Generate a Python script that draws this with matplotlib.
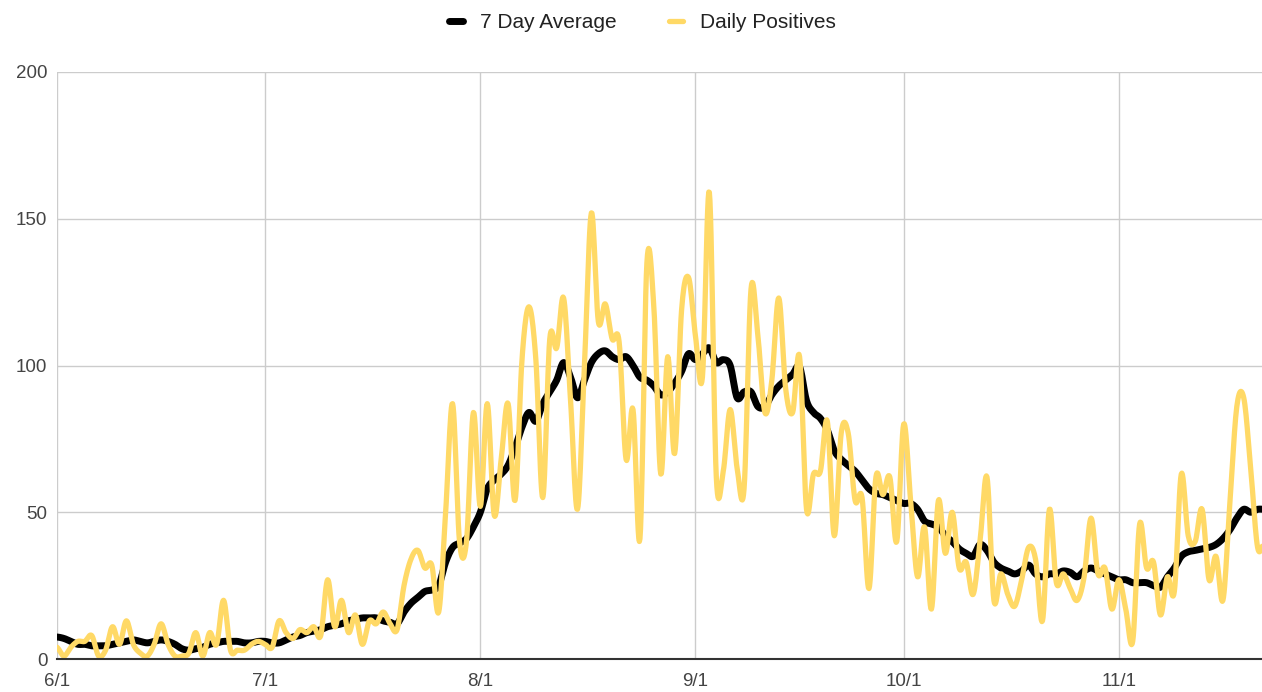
import numpy as np
import pandas as pd
import matplotlib
matplotlib.use("Agg")
from matplotlib import pyplot as plt

# daily values, 6/1 .. 11/22
daily_positives = [
    4, 1, 4, 6, 6, 8, 1, 3, 11, 5, 13, 5, 2, 1, 5, 12, 5, 1, 1, 2, 9, 1, 9, 5, 20, 3, 3, 3, 5, 6,           # june
    5, 4, 13, 9, 7, 10, 9, 11, 8, 27, 11, 20, 9, 15, 5, 13, 12, 16, 12, 10, 25, 34, 37, 31, 32, 16, 50, 87, 40, 40, 84,  # july
    52, 87, 49, 68, 87, 54, 102, 120, 102, 55, 109, 106, 123, 88, 51, 100, 152, 115, 121, 109, 108, 68, 85, 41, 135, 120, 63, 103, 70, 119, 130,  # aug
    110, 96, 159, 62, 64, 85, 65, 58, 126, 110, 84, 95, 123, 92, 84, 103, 51, 63, 64, 81, 42, 77, 77, 54, 55, 24, 62, 56, 62, 40,  # sep
    80, 54, 28, 45, 17, 54, 36, 50, 31, 33, 22, 40, 62, 20, 29, 22, 18, 27, 38, 34, 13, 51, 26, 29, 24, 20, 28, 48, 29, 31, 17,  # oct
    27, 17, 6, 46, 31, 33, 15, 28, 23, 63, 42, 40, 51, 27, 35, 20, 53, 86, 89, 65, 38, 40,  # nov
]

seven_day_avg = [
    7.5, 7, 6, 5, 5, 4.5, 4.5, 4.5, 5, 5.5, 6, 6.5, 6, 5.5, 6, 6.5, 6, 5, 3.5, 3, 3.5, 4, 5, 5.5, 6, 6, 6, 5.5, 5.5, 6,
    6, 5.5, 5.5, 6.5, 7.5, 8, 9, 9.5, 10, 11, 11.5, 12, 13, 13.5, 14, 14, 14, 13, 12.5, 12, 16, 19, 21, 23, 23.5, 25, 33, 38, 39.5, 41, 45,
    50, 58, 61, 63, 66, 72, 79, 84, 81, 87, 91, 95, 101, 96, 89, 95, 101, 104, 105, 103, 102, 103, 100, 96, 95, 93, 90, 91, 94, 98, 104,
    102, 104, 106, 101, 102, 100, 89, 91, 91, 86, 86, 90, 93, 95, 97, 99.5, 88, 84, 82, 78, 71, 68, 66, 64, 61, 58, 56.5, 56, 55, 54,
    53, 53, 51, 47, 46, 45, 42, 40, 37.5, 36, 35, 39, 37, 33, 31, 30, 29, 30, 32, 29, 28, 29, 29, 30, 29.5, 28, 30, 31, 30, 29, 28,
    27, 27, 26, 26, 26, 25, 24.5, 28, 31, 35, 36.5, 37, 37.5, 38, 39, 41, 44, 48, 51, 50, 51, 51,
]

dates = pd.date_range("2020-06-01", periods=len(daily_positives), freq="D")
y_ticks = [0, 50, 100, 150, 200]


def smooth(y, n=12):
    # catmull-rom style curve through the points, like the sheets "smooth" line
    y = np.asarray(y, dtype=float)
    x = np.arange(len(y))
    p = np.concatenate([[y[0]], y, [y[-1]]])
    m = (p[2:] - p[:-2]) / 2.0
    xs, ys = [], []
    for i in range(len(y) - 1):
        t = np.linspace(0, 1, n, endpoint=False)
        h00 = 2 * t**3 - 3 * t**2 + 1
        h10 = t**3 - 2 * t**2 + t
        h01 = -2 * t**3 + 3 * t**2
        h11 = t**3 - t**2
        ys.append(h00 * y[i] + h10 * m[i] + h01 * y[i + 1] + h11 * m[i + 1])
        xs.append(x[i] + t)
    xs.append([x[-1]])
    ys.append([y[-1]])
    return np.concatenate(xs), np.concatenate(ys)


plt.rcParams["font.family"] = ["Liberation Sans", "DejaVu Sans"]

fig = plt.figure(figsize=(12.62, 6.92), dpi=100)
ax = fig.add_axes([57 / 1262, 33 / 692, 1 - 57 / 1262, (659 - 72) / 692])

xa, ya = smooth(seven_day_avg)
xd, yd = smooth(daily_positives)
ax.plot(xa, ya, color="black", lw=5, solid_capstyle="round", label="7 Day Average", zorder=3)
ax.plot(xd, yd, color="#ffd966", lw=3.8, solid_capstyle="round", label="Daily Positives", zorder=4)

first_of_month = [i for i, d in enumerate(dates) if d.day == 1]
ax.set_xticks(first_of_month)
ax.set_xticklabels([f"{dates[i].month}/1" for i in first_of_month])
ax.set_yticks(y_ticks)
ax.set_xlim(0, (1262 - 57) / 6.94)
ax.set_ylim(0, 200)

ax.grid(True, color="#cccccc", lw=1)
ax.set_axisbelow(True)
for s in ["top", "right", "left"]:
    ax.spines[s].set_visible(False)
ax.spines["bottom"].set_color("#333333")
ax.spines["bottom"].set_linewidth(1.5)
ax.spines["bottom"].set_zorder(5)
ax.tick_params(length=0, labelsize=13.5, colors="#444444")
ax.tick_params(axis="y", pad=7)
ax.tick_params(axis="x", pad=10)

fig.legend(loc="upper center", bbox_to_anchor=(0.509, 1.008), ncol=2, frameon=False,
           fontsize=15, handlelength=0.7, handletextpad=0.8, columnspacing=2.5,
           labelcolor="#222222")

fig.savefig("out.png", dpi=100)
